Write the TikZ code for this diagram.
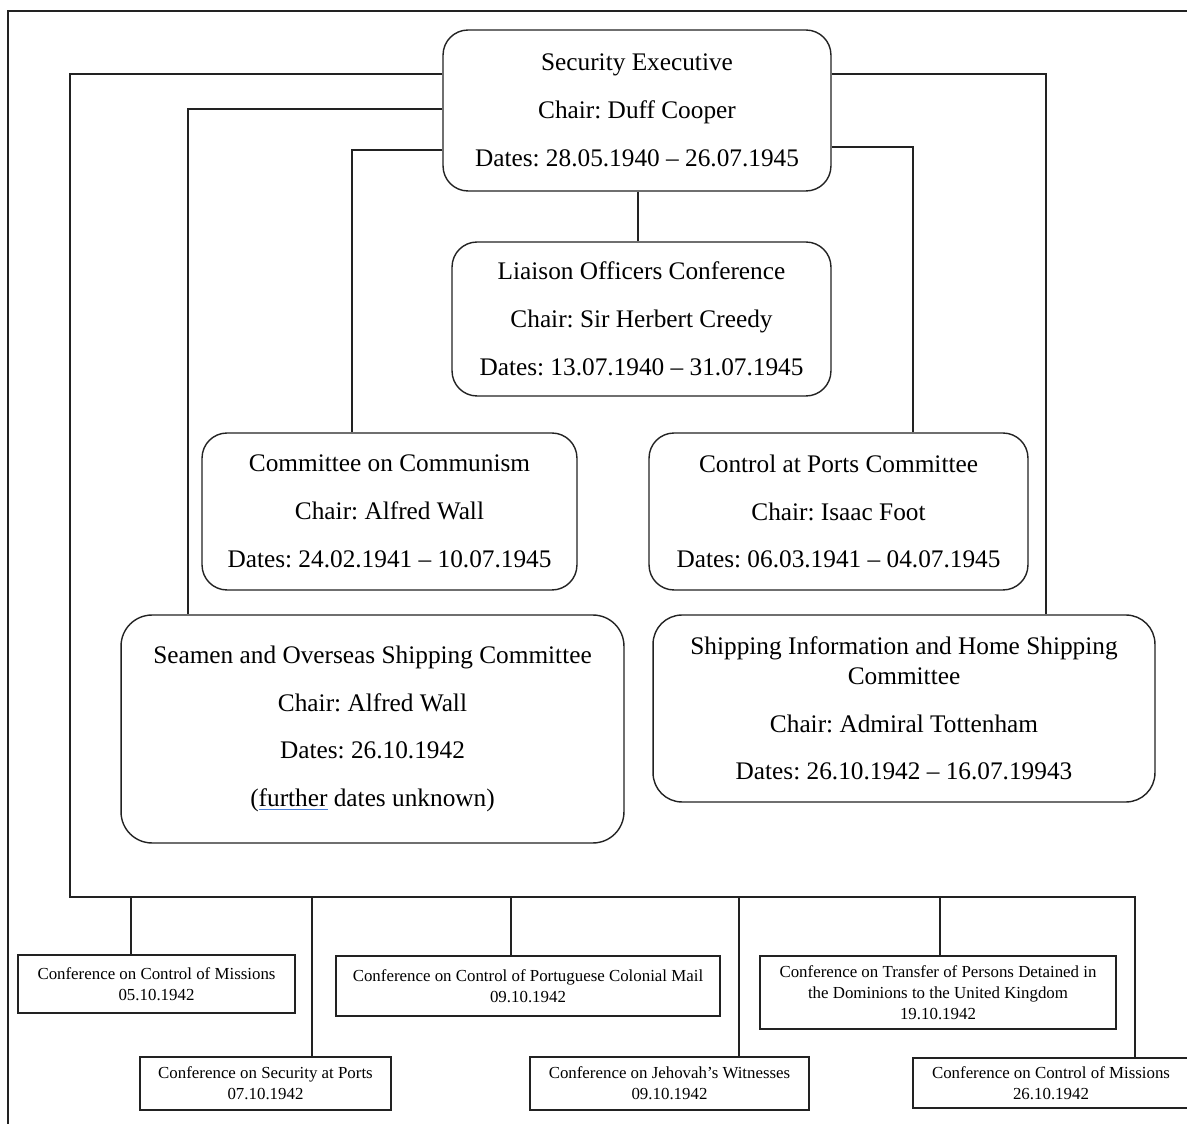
\documentclass[tikz,border=0pt]{standalone}
\usepackage{fontspec}
\setmainfont{Liberation Serif}
\frenchspacing
\definecolor{ink}{HTML}{222222}
\definecolor{ulblue}{HTML}{4A7FD8}
\newcommand\bigtxt{\fontsize{14.4}{27.2}\selectfont}
\newcommand\smalltxt{\fontsize{9.6}{12}\selectfont}
\begin{document}
\begin{tikzpicture}[x=0.02cm,y=-0.02cm,
  rbox/.style={draw=ink,line width=0.8pt,rounded corners=0.5cm,align=center,
    inner sep=0pt,font=\bigtxt},
  sbox/.style={draw=ink,line width=0.8pt,align=center,inner sep=0pt,font=\smalltxt},
  link/.style={draw=ink,line width=0.8pt}]
\useasboundingbox (0,0) rectangle (1187,1124);
% page frame
\draw[link] (8,1130) -- (8,11) -- (1190,11);

% committees
\node[rbox,minimum width=7.76cm,minimum height=3.22cm] (se) at (637,110.5)
  {Security Executive\\Chair: Duff Cooper\\Dates: 28.05.1940 -- 26.07.1945};
\node[rbox,minimum width=7.58cm,minimum height=3.08cm] (lo) at (641.5,319)
  {Liaison Officers Conference\\Chair: Sir Herbert Creedy\\Dates: 13.07.1940 -- 31.07.1945};
\node[rbox,minimum width=7.5cm,minimum height=3.14cm] (cc) at (389.5,511.5)
  {Committee on Communism\\Chair: Alfred Wall\\Dates: 24.02.1941 -- 10.07.1945};
\node[rbox,minimum width=7.58cm,minimum height=3.14cm] (cp) at (838.5,511.5)
  {Control at Ports Committee\\Chair: Isaac Foot\\Dates: 06.03.1941 -- 04.07.1945};
\node[rbox,rounded corners=0.62cm,minimum width=10.06cm,minimum height=4.56cm] (so) at (372.5,729)
  {Seamen and Overseas Shipping Committee\\Chair: Alfred Wall\\Dates: 26.10.1942\\
   ({\color{ulblue}\underline{\textcolor{black}{further}}} dates unknown)};
\node[rbox,rounded corners=0.58cm,minimum width=10.04cm,minimum height=3.74cm] (si) at (904,708.5)
  {Shipping Information and Home Shipping\\[-10.2pt]Committee\\Chair: Admiral Tottenham\\
   Dates: 26.10.1942 -- 16.07.19943};

% conferences
\node[sbox,minimum width=5.54cm,minimum height=1.16cm] (c1) at (156.5,984)
  {Conference on Control of Missions\\05.10.1942};
\node[sbox,minimum width=5.02cm,minimum height=1.06cm] (c2) at (265.5,1083.5)
  {Conference on Security at Ports\\07.10.1942};
\node[sbox,minimum width=7.68cm,minimum height=1.2cm] (c3) at (528,986)
  {Conference on Control of Portuguese Colonial Mail\\09.10.1942};
\node[sbox,minimum width=5.58cm,minimum height=1.06cm] (c4) at (669.5,1083.5)
  {Conference on Jehovah's Witnesses\\09.10.1942};
\node[sbox,minimum width=7.12cm,minimum height=1.46cm] (c5) at (938,992.5)
  {Conference on Transfer of Persons Detained in\\the Dominions to the United Kingdom\\19.10.1942};
\node[sbox,minimum width=5.52cm,minimum height=1.0cm] (c6) at (1051,1083)
  {Conference on Control of Missions\\26.10.1942};

% connectors from the Security Executive
\draw[link] (se.south -| 638,0) -- (lo.north -| 638,0);
\draw[link] (se.west |- 0,150) -| (cc.north -| 352,0);
\draw[link] (se.west |- 0,109) -| (so.north -| 188,0);
\draw[link] (se.east |- 0,147) -| (cp.north -| 913,0);
\draw[link] (se.east |- 0,74) -| (si.north -| 1046,0);

% bus to the conferences
\coordinate (busL) at (70,897);
\coordinate (busR) at (1135,897);
\draw[link] (se.west |- 0,74) -| (busL) -- (busR) -- (busR |- c6.north);
\coordinate (t1) at (131,897);
\coordinate (t2) at (312,897);
\coordinate (t3) at (511,897);
\coordinate (t4) at (739,897);
\coordinate (t5) at (940,897);
\draw[link] (t1) -- (t1 |- c1.north);
\draw[link] (t2) -- (t2 |- c2.north);
\draw[link] (t3) -- (t3 |- c3.north);
\draw[link] (t4) -- (t4 |- c4.north);
\draw[link] (t5) -- (t5 |- c5.north);
\end{tikzpicture}
\end{document}
